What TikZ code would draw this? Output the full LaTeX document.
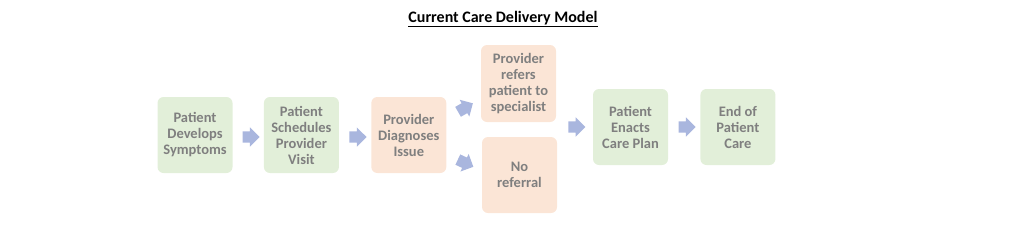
\documentclass[tikz,border=0pt]{standalone}
\usepackage{fontspec}
\setmainfont{Carlito}
\usetikzlibrary{positioning,calc,shapes.arrows}
\definecolor{stepgrn}{HTML}{E2EFD9}
\definecolor{steporg}{HTML}{FBE5D6}
\definecolor{txtgray}{HTML}{7F7F7F}
\definecolor{arrblue}{HTML}{A9B6DE}
\tikzset{
  stage/.style ={rounded corners=6pt,align=center,text=txtgray,
                 font=\fontsize{14.5}{16}\selectfont\bfseries,
                 minimum width=75pt,minimum height=76pt,inner sep=2pt},
  gstage/.style={stage,fill=stepgrn},
  ostage/.style={stage,fill=steporg},
  blk/.style   ={single arrow,fill=arrblue,draw=none,inner sep=5.5pt,
                 minimum height=17pt,single arrow head extend=4pt,
                 single arrow head indent=0pt},
}
\begin{document}
\begin{tikzpicture}[x=1pt,y=1pt]
  \useasboundingbox (0,0) rectangle (1024,-226);
  \node[font=\fontsize{16}{18}\selectfont\bfseries] (title) at (503,-19)
        {\underline{Current Care Delivery Model}};

  % --- main chain ---
  \node[gstage] (symp) at (195,-135) {Patient\\ Develops\\ Symptoms};
  \node[gstage,right=31pt of symp] (visit) {Patient\\ Schedules\\ Provider\\ Visit};
  \node[ostage,right=32pt of visit] (diag) {Provider\\ Diagnoses\\ Issue};

  % branches
  \node[ostage,minimum height=77pt] (refer) at (518.5,-83.5)
        {Provider\\ refers\\ patient to\\ specialist};
  \node[ostage] (noref) at (519.5,-175) {No\\ referral};

  \node[gstage] (enact) at (630.5,-127) {Patient\\ Enacts\\ Care Plan};
  \node[gstage,right=32pt of enact] (end) {End of\\ Patient\\ Care};

  % block arrows
  \node[blk] (a1) at ($(symp.east)!.5!(visit.west)+(0,-2)$) {};
  \node[blk] (a2) at ($(visit.east)!.5!(diag.west)+(0,-2)$) {};
  \node[blk,rotate=30] (a3) at (463,-109) {};
  \node[blk,rotate=-25] (a4) at (463,-162) {};
  \node[blk] (a5) at (574,-127) {};
  \node[blk] (a6) at ($(enact.east)!.5!(end.west)$) {};
\end{tikzpicture}
\end{document}
